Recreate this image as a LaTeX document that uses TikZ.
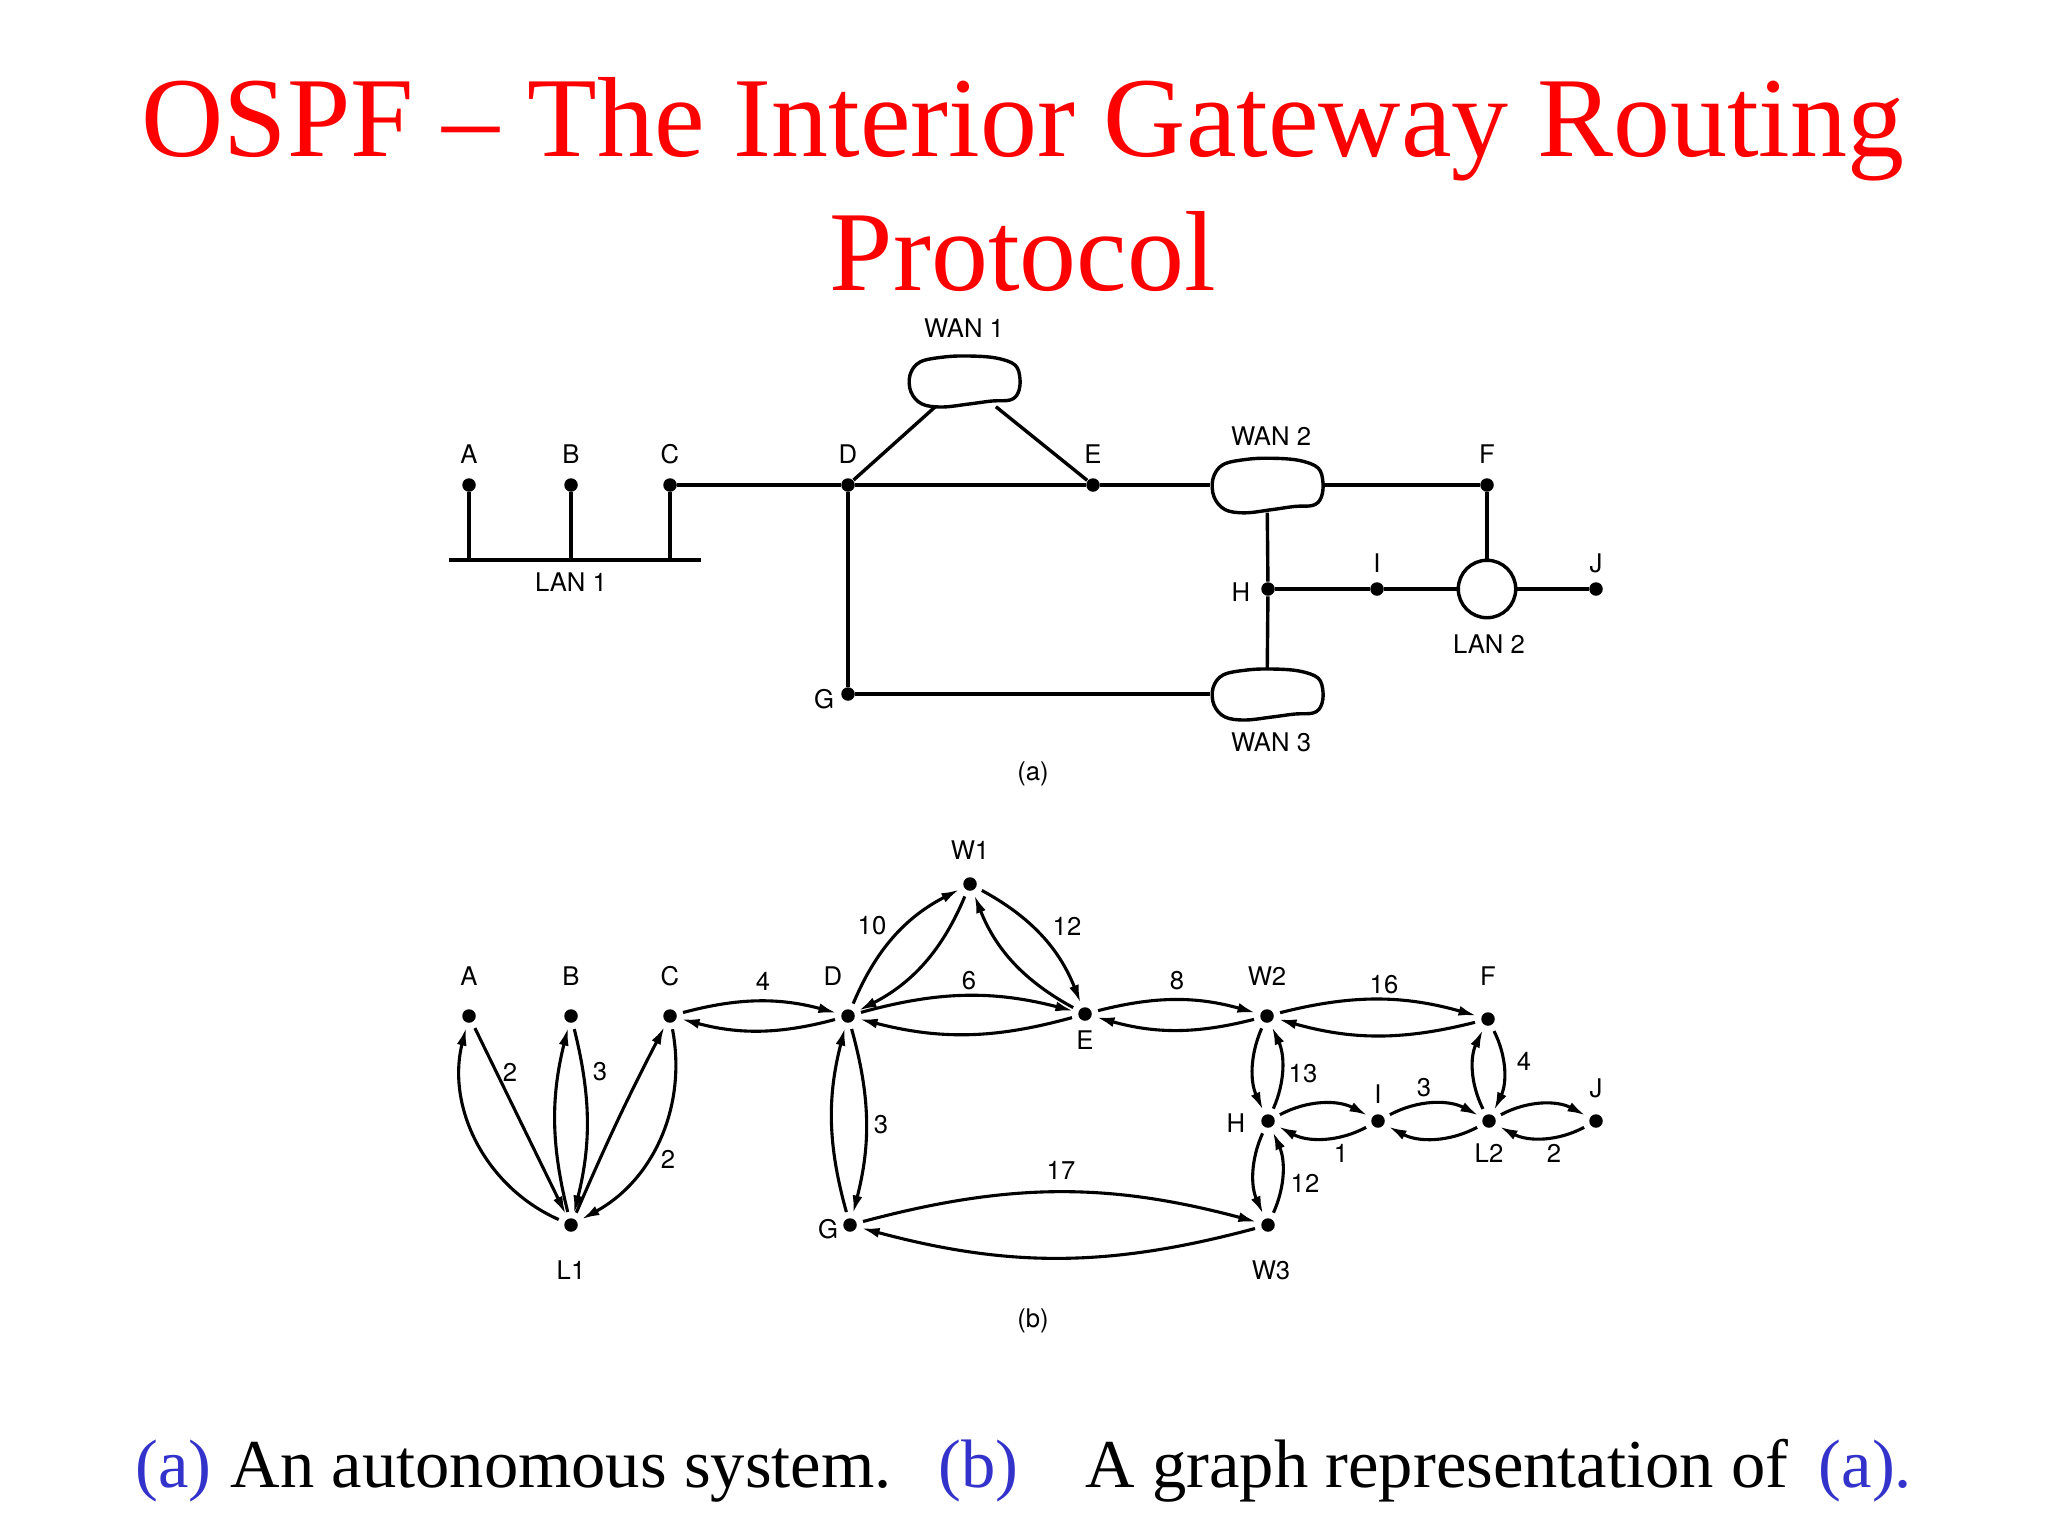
\documentclass[tikz,border=0pt]{standalone}
\usepackage{fontspec}
\setmainfont{Liberation Serif}
\newfontfamily\helv{TeX Gyre Heros}
\usetikzlibrary{arrows.meta}
\definecolor{titlered}{RGB}{255,0,0}
\definecolor{capblue}{RGB}{51,51,204}
\tikzset{
  lbl/.style={font=\helv\fontsize{7.3pt}{8.5pt}\selectfont, inner sep=0pt},
  vdot/.style={circle, fill=black, inner sep=0pt, minimum size=0.135cm},
  wire/.style={line width=0.034cm},
  arr/.style={line width=0.031cm, -{Latex[length=0.18cm,width=0.1cm]}, shorten <=0.06cm, shorten >=0.045cm},
  cloudbox/.style={inner sep=0pt, minimum width=1.12cm, minimum height=0.5cm},
  titletext/.style={font=\fontsize{32.4pt}{38pt}\selectfont, text=titlered, inner sep=0pt, anchor=base},
  captext/.style={font=\fontsize{19.5pt}{23pt}\selectfont, inner sep=0pt, anchor=base west},
  wanblob/.pic={\draw[wire] plot[smooth cycle, tension=0.6] coordinates {(-54,-6) (-44,-19) (-20,-24) (5,-25) (32,-23) (51,-16) (56,-2) (54,12) (46,19) (28,20) (5,23) (-22,26) (-42,23) (-53,11)};}
}
\begin{document}
\begin{tikzpicture}[x=0.01cm, y=-0.01cm]
\useasboundingbox[fill=white] (0,0) rectangle (2048,1536);

% title
\node[titletext] (t1) at (1023,156) {OSPF \textendash{} The Interior Gateway Routing};
\node[titletext] (t2) at (1023,290) {Protocol};

% caption
\node[captext, text=capblue] (c1) at (134.5,1487) {(a)};
\node[captext] (c2) at (230,1487) {An autonomous system.};
\node[captext, text=capblue] (c3) at (938,1487) {(b)};
\node[captext] (c4) at (1085,1487) {A graph representation of};
\node[captext, text=capblue] (c5) at (1818,1487) {(a).};

% ---------------- (a) ----------------
\node[vdot] (aA) at (469,485) {};
\node[vdot] (aB) at (571,485) {};
\node[vdot] (aC) at (670,485) {};
\node[vdot] (aD) at (848,485) {};
\node[vdot] (aE) at (1093,485) {};
\node[vdot] (aF) at (1487,485) {};
\node[vdot] (aH) at (1268,589) {};
\node[vdot] (aI) at (1377,589) {};
\node[vdot] (aJ) at (1596,589) {};
\node[vdot] (aG) at (848,694) {};
\node[cloudbox] (wan1) at (964,381) {};
\node[cloudbox, minimum height=0.54cm] (wan2) at (1267,485) {};
\node[cloudbox] (wan3) at (1267,694) {};
\node[circle, draw, wire, inner sep=0pt, minimum size=0.574cm] (lan2) at (1487,589) {};
\coordinate (lanL) at (449,560);
\coordinate (lanR) at (701,560);

\pic at (wan1.center) {wanblob};
\pic[yscale=1.07] at (wan2.center) {wanblob};
\pic at (wan3.center) {wanblob};

\draw[wire] (lanL) -- (lanR);
\draw[wire] (aA) -- (aA |- lanL);
\draw[wire] (aB) -- (aB |- lanL);
\draw[wire] (aC) -- (aC |- lanL);
\draw[wire] (aC) -- (aD);
\draw[wire] (aD) -- (aE);
\draw[wire] (aD) -- (wan1);
\draw[wire] (aE) -- (wan1);
\draw[wire] (aE) -- (wan2);
\draw[wire] (wan2) -- (aF);
\draw[wire] (wan2) -- (aH);
\draw[wire] (aH) -- (wan3);
\draw[wire] (aD) -- (aG);
\draw[wire] (aG) -- (wan3);
\draw[wire] (aH) -- (aI);
\draw[wire] (aI) -- (lan2);
\draw[wire] (lan2) -- (aJ);
\draw[wire] (aF) -- (lan2);

\node[lbl] (laA) at (469,454.5) {A};
\node[lbl] (laB) at (571,454.5) {B};
\node[lbl] (laC) at (670,454.5) {C};
\node[lbl] (laD) at (848,454.5) {D};
\node[lbl] (laE) at (1093,454.5) {E};
\node[lbl] (laF) at (1487,454.5) {F};
\node[lbl] (laW1) at (964,328) {WAN 1};
\node[lbl] (laW2) at (1271,436) {WAN 2};
\node[lbl] (laW3) at (1271,742) {WAN 3};
\node[lbl] (laL1) at (571,582.5) {LAN 1};
\node[lbl] (laL2) at (1489,644) {LAN 2};
\node[lbl] (laH) at (1241,592) {H};
\node[lbl] (laI) at (1377,563) {I};
\node[lbl] (laJ) at (1596,563) {J};
\node[lbl] (laG) at (824,699) {G};
\node[lbl] (capa) at (1033,774) {(a)};

% ---------------- (b) ----------------
\node[vdot] (bW1) at (970,884) {};
\node[vdot] (bA) at (469,1016) {};
\node[vdot] (bB) at (571,1016) {};
\node[vdot] (bC) at (670,1016) {};
\node[vdot] (bD) at (848,1016) {};
\node[vdot] (bE) at (1085,1014) {};
\node[vdot] (bW2) at (1267,1016) {};
\node[vdot] (bF) at (1488,1019) {};
\node[vdot] (bL1) at (571,1225) {};
\node[vdot] (bG) at (850,1225) {};
\node[vdot] (bW3) at (1268,1225) {};
\node[vdot] (bH) at (1268,1121) {};
\node[vdot] (bI) at (1378,1121) {};
\node[vdot] (bL2) at (1489,1121) {};
\node[vdot] (bJ) at (1596,1121) {};

\draw[arr] (bL1) to[bend left=40] (bA);
\draw[arr] (bA) to[bend left=0] (bL1);
\draw[arr] (bL1) to[bend left=14] (bB);
\draw[arr] (bB) to[bend left=14] (bL1);
\draw[arr] (bL1) to[bend left=2] (bC);
\draw[arr] (bC) to[bend left=36] (bL1);
\draw[arr] (bC) to[bend left=15] (bD);
\draw[arr] (bD) to[bend left=15] (bC);
\draw[arr] (bD) to[bend left=20] (bW1);
\draw[arr] (bW1) to[bend left=20] (bD);
\draw[arr] (bW1) to[bend left=20] (bE);
\draw[arr] (bE) to[bend left=20] (bW1);
\draw[arr] (bD) to[bend left=15] (bE);
\draw[arr] (bE) to[bend left=15] (bD);
\draw[arr] (bE) to[bend left=15] (bW2);
\draw[arr] (bW2) to[bend left=15] (bE);
\draw[arr] (bW2) to[bend left=15] (bF);
\draw[arr] (bF) to[bend left=15] (bW2);
\draw[arr] (bD) to[bend left=15] (bG);
\draw[arr] (bG) to[bend left=15] (bD);
\draw[arr] (bG) to[bend left=15] (bW3);
\draw[arr] (bW3) to[bend left=15] (bG);
\draw[arr] (bW2) to[bend right=24] (bH);
\draw[arr] (bH) to[bend right=24] (bW2);
\draw[arr] (bH) to[bend right=24] (bW3);
\draw[arr] (bW3) to[bend right=24] (bH);
\draw[arr] (bH) to[bend left=28] (bI);
\draw[arr] (bI) to[bend left=28] (bH);
\draw[arr] (bI) to[bend left=28] (bL2);
\draw[arr] (bL2) to[bend left=28] (bI);
\draw[arr] (bL2) to[bend left=26] (bF);
\draw[arr] (bF) to[bend left=26] (bL2);
\draw[arr] (bL2) to[bend left=28] (bJ);
\draw[arr] (bJ) to[bend left=28] (bL2);

\node[lbl] (lbW1) at (970,850) {W1};
\node[lbl] (lbA) at (469,976) {A};
\node[lbl] (lbB) at (571,976) {B};
\node[lbl] (lbC) at (670,976) {C};
\node[lbl] (lbD) at (833,976) {D};
\node[lbl] (lbE) at (1085,1040) {E};
\node[lbl] (lbW2) at (1267,976) {W2};
\node[lbl] (lbF) at (1488,976) {F};
\node[lbl] (lbL1) at (571,1270) {L1};
\node[lbl] (lbG) at (828,1229) {G};
\node[lbl] (lbW3) at (1271,1270) {W3};
\node[lbl] (lbH) at (1236,1123) {H};
\node[lbl] (lbI) at (1378,1094) {I};
\node[lbl] (lbL2) at (1489,1153) {L2};
\node[lbl] (lbJ) at (1596,1088) {J};
\node[lbl] (capb) at (1033,1321) {(b)};

% edge weights
\node[lbl] (wAL) at (510,1072) {2};
\node[lbl] (wBL) at (600,1072) {3};
\node[lbl] (wCL) at (668,1159) {2};
\node[lbl] (wCD) at (763,981) {4};
\node[lbl] (wDW) at (872,926) {10};
\node[lbl] (wWE) at (1067,926) {12};
\node[lbl] (wDE) at (969,981) {6};
\node[lbl] (wEW) at (1177,981) {8};
\node[lbl] (wWF) at (1384,985) {16};
\node[lbl] (wDG) at (881,1125) {3};
\node[lbl] (wGW) at (1061,1170) {17};
\node[lbl] (wWH) at (1303,1074) {13};
\node[lbl] (wHW) at (1305,1183) {12};
\node[lbl] (wHI) at (1341,1153) {1};
\node[lbl] (wIL) at (1424,1088) {3};
\node[lbl] (wFL) at (1524,1061) {4};
\node[lbl] (wLJ) at (1554,1153) {2};
\end{tikzpicture}
\end{document}
